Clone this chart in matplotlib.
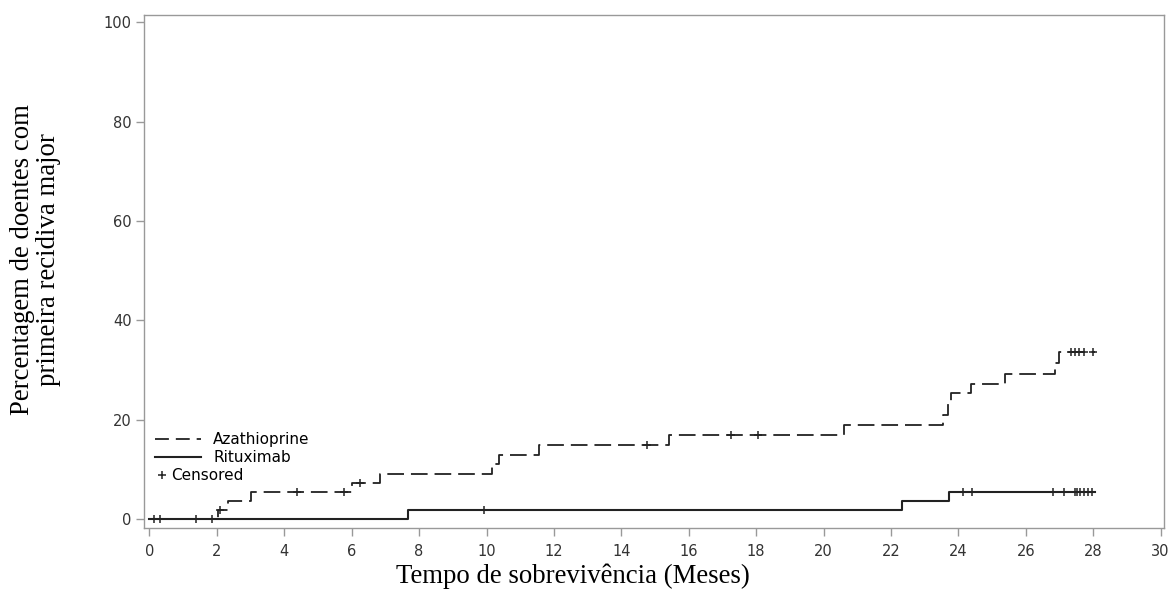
import matplotlib
matplotlib.use("Agg")
import matplotlib.pyplot as plt
from matplotlib.lines import Line2D
import numpy as np

plt.rcParams['lines.scale_dashes'] = False

# ---- data ----
aza_times = [0, 2.03, 2.32, 3.0, 6.0, 6.85, 10.17, 10.37, 11.55, 15.4, 20.6,
             23.55, 23.68, 23.78, 24.38, 25.37, 26.88, 26.98, 28.05]
aza_values = [0, 1.8, 3.6, 5.4, 7.3, 9.1, 11.0, 13.0, 14.9, 16.9, 18.9,
              21.0, 23.1, 25.3, 27.3, 29.3, 31.5, 33.6, 33.6]
aza_censor = [2.1, 4.38, 5.76, 6.26, 14.77, 17.25, 18.04,
              27.33, 27.45, 27.58, 27.73, 27.98]

rit_times = [0, 7.68, 22.33, 23.72, 28.05]
rit_values = [0, 1.8, 3.6, 5.4, 5.4]
rit_censor = [0.14, 0.32, 1.38, 1.85, 9.92, 24.13, 24.4,
              26.8, 27.14, 27.47, 27.52, 27.62, 27.74, 27.85, 27.96]

x_ticks = list(range(0, 31, 2))
y_ticks = [0, 20, 40, 60, 80, 100]

series_labels = ["Azathioprine", "Rituximab", "Censored"]
x_label = "Tempo de sobrevivência (Meses)"
y_label = "Percentagem de doentes com\nprimeira recidiva major"


def level_at(times, values, t):
    idx = np.searchsorted(times, t, side='right') - 1
    return values[max(idx, 0)]


fig = plt.figure(figsize=(11.72, 5.96), dpi=100)
ax = fig.add_axes([0.1229, 0.1149, 0.8703, 0.8599])

line_col = '#222222'
dash_style = (0, (12.0, 5.0))

ax.step(aza_times, aza_values, where='post', color=line_col, lw=1.3,
        linestyle=dash_style)
ax.step(rit_times, rit_values, where='post', color=line_col, lw=1.5,
        linestyle='-')

aza_cy = [level_at(aza_times, aza_values, t) for t in aza_censor]
rit_cy = [level_at(rit_times, rit_values, t) for t in rit_censor]
ax.plot(aza_censor, aza_cy, linestyle='none', marker='+', ms=6, mew=1.1,
        color=line_col)
ax.plot(rit_censor, rit_cy, linestyle='none', marker='+', ms=6, mew=1.1,
        color=line_col)

ax.set_xlim(-0.16, 30.1)
ax.set_ylim(-1.7, 101.5)
ax.set_xticks(x_ticks)
ax.set_yticks(y_ticks)

spine_col = '#999999'
for s in ax.spines.values():
    s.set_color(spine_col)
    s.set_linewidth(1.0)
ax.tick_params(axis='both', colors=spine_col, labelcolor='#333333',
               length=6, width=1.0, labelsize=10.5, direction='out')
ax.tick_params(axis='x', pad=6)
ax.tick_params(axis='y', pad=3)

serif = ['Liberation Serif', 'DejaVu Serif']
ax.set_xlabel(x_label, fontsize=19.3, family=serif, color='black')
ax.xaxis.set_label_coords(0.42, -0.095)
ax.xaxis.label.set_va('center')
ax.set_ylabel(y_label, fontsize=19.3, family=serif, color='black',
              linespacing=1.05, multialignment='center')
ax.yaxis.set_label_coords(-0.106, 0.522)
ax.yaxis.label.set_va('center')

# legend
h_aza = Line2D([], [], color=line_col, lw=1.3, linestyle=(0, (10.0, 5.0)))
h_rit = Line2D([], [], color=line_col, lw=1.5, linestyle='-')
leg1 = ax.legend([h_aza, h_rit], series_labels[:2], loc='lower left',
                 bbox_to_anchor=(0.008, 0.116), frameon=False, fontsize=11,
                 handlelength=3.0, handletextpad=0.8, labelspacing=0.2,
                 borderpad=0.2, borderaxespad=0)
ax.add_artist(leg1)
h_cen = Line2D([], [], color=line_col, linestyle='none', marker='+', ms=6,
               mew=1.1)
leg2 = ax.legend([h_cen], series_labels[2:], loc='lower left',
                 bbox_to_anchor=(0.010, 0.08), frameon=False, fontsize=11,
                 handlelength=0.6, handletextpad=0.3, borderpad=0.2,
                 borderaxespad=0)

fig.savefig('out.png', dpi=100)
